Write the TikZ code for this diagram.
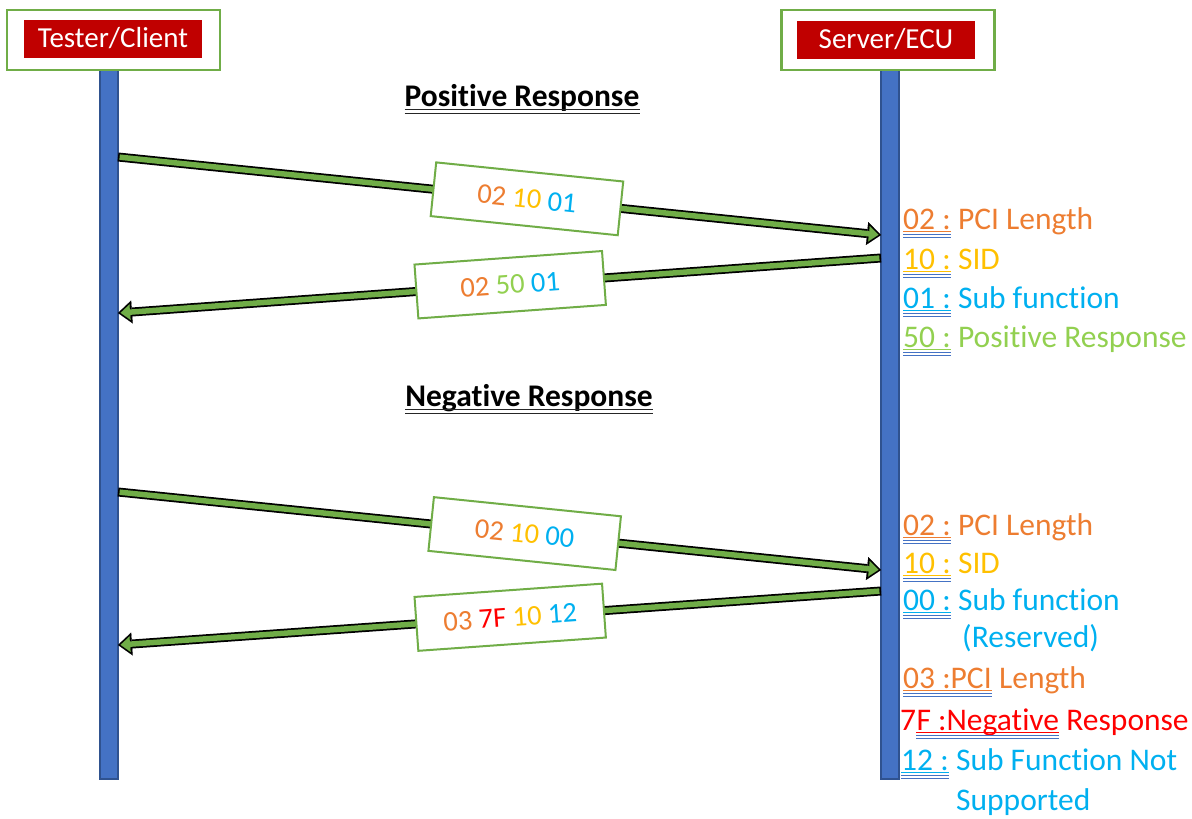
\documentclass[tikz,border=0pt]{standalone}
\usepackage{fontspec}
\setmainfont{Carlito}[Ligatures=NoCommon]
\usetikzlibrary{arrows.meta}

\definecolor{lifeblue}{HTML}{4472C4}
\definecolor{lifeedge}{HTML}{2F528F}
\definecolor{headred}{HTML}{C00000}
\definecolor{boxgreen}{HTML}{70AD47}
\definecolor{pciorange}{HTML}{ED7D31}
\definecolor{sidgold}{HTML}{FFC000}
\definecolor{subblue}{HTML}{00B0F0}
\definecolor{posgreen}{HTML}{92D050}
\definecolor{negred}{HTML}{FF0000}
\definecolor{ulblue}{HTML}{4472C4}

\newcommand{\msgfont}{\fontsize{28.5}{34}\selectfont}
\newcommand{\headfont}{\fontsize{29}{34}\selectfont}
\newcommand{\lblfont}{\fontsize{31.5}{37}\selectfont}
\newcommand{\titlefont}{\fontsize{31.5}{37}\selectfont}

% thick green arrow with black rim, message box on it
\newcommand{\msgarrow}[5]{%
  \draw[arrowout] (#1) -- (#2);
  \draw[arrowin] (#1) -- (#2) node[msgbox,sloped,pos=#3] (#4) {#5};}

% coloured underline plus the blue double line under a key
\newcommand{\keyline}[2]{%
  \draw[#2,line width=1pt] ([yshift=-2.5pt]#1.base west) -- ([yshift=-2.5pt]#1.base east);
  \draw[ulblue,line width=0.9pt] ([yshift=-5.8pt]#1.base west) -- ([yshift=-5.8pt]#1.base east);
  \draw[ulblue,line width=0.9pt] ([yshift=-8.4pt]#1.base west) -- ([yshift=-8.4pt]#1.base east);}

\begin{document}
\begin{tikzpicture}[x=1pt,y=-1pt,
    lifeline/.style={draw=lifeedge,fill=lifeblue,line width=1.5pt,minimum width=18pt,minimum height=709pt,inner sep=0pt},
    headbox/.style={draw=boxgreen,fill=white,line width=2.5pt,minimum width=213pt,minimum height=60pt,inner sep=0pt},
    headlabel/.style={fill=headred,text=white,minimum width=178pt,minimum height=38pt,inner sep=0pt,font=\headfont},
    msgbox/.style={draw=boxgreen,fill=white,line width=2pt,minimum width=188pt,minimum height=54pt,inner sep=0pt,text=black,font=\msgfont},
    title/.style={font=\titlefont\bfseries,anchor=base,inner sep=0pt},
    titleline/.style={black!85,line width=1.3pt},
    lbl/.style={font=\lblfont,anchor=base west,inner sep=0pt},
    arrowout/.style={black,line width=9pt,-{Triangle[length=14pt,width=23pt,line width=0.1pt]}},
    arrowin/.style={boxgreen,line width=5.5pt,shorten <=1.6pt,shorten >=2.6pt,-{Triangle[length=9.5pt,width=15.5pt,line width=0.1pt]}}]

    \useasboundingbox (0,0) rectangle (1192,819);

    \node[lifeline] (client) at (109,424.5) {};
    \node[lifeline] (server) at (890,424.5) {};
    \node[headbox] (clienthead) at (113.5,40) {};
    \node[headlabel] (clientlabel) at (113,38.5) {Tester/Client};
    \node[headbox] (serverhead) at (888,40) {};
    \node[headlabel] (serverlabel) at (886,39.5) {Server/ECU};

    \node[title] (postitle) at (522,106) {Positive Response};
    \draw[titleline] ([yshift=-3.3pt]postitle.base west) -- ([yshift=-3.3pt]postitle.base east);
    \draw[titleline] ([yshift=-7.3pt]postitle.base west) -- ([yshift=-7.3pt]postitle.base east);
    \node[title] (negtitle) at (529,406) {Negative Response};
    \draw[titleline] ([yshift=-3.3pt]negtitle.base west) -- ([yshift=-3.3pt]negtitle.base east);
    \draw[titleline] ([yshift=-7.3pt]negtitle.base west) -- ([yshift=-7.3pt]negtitle.base east);

    \coordinate (c1) at (118,157);
    \coordinate (s1) at (881,235);
    \coordinate (s2) at (881,258);
    \coordinate (c2) at (118,313);
    \coordinate (c3) at (118,492);
    \coordinate (s3) at (881,570);
    \coordinate (s4) at (881,591);
    \coordinate (c4) at (118,645);

    \msgarrow{c1}{s1}{0.536}{req1}{\textcolor{pciorange}{02} \textcolor{sidgold}{10} \textcolor{subblue}{01}}
    \msgarrow{s2}{c2}{0.486}{res1}{\textcolor{pciorange}{02} \textcolor{posgreen}{50} \textcolor{subblue}{01}}
    \msgarrow{c3}{s3}{0.533}{req2}{\textcolor{pciorange}{02} \textcolor{sidgold}{10} \textcolor{subblue}{00}}
    \msgarrow{s4}{c4}{0.486}{res2}{\textcolor{pciorange}{03} \textcolor{negred}{7F} \textcolor{sidgold}{10} \textcolor{subblue}{12}}

    % positive legend
    \node[lbl,text=pciorange] (pk1) at (903,229) {02 :};
    \node[lbl,text=pciorange] (pd1) at ([xshift=7pt]pk1.base east) {PCI Length};
    \keyline{pk1}{pciorange}
    \node[lbl,text=sidgold] (pk2) at (903,269) {10 :};
    \node[lbl,text=sidgold] (pd2) at ([xshift=7pt]pk2.base east) {SID};
    \keyline{pk2}{sidgold}
    \node[lbl,text=subblue] (pk3) at (903,308) {01 :};
    \node[lbl,text=subblue] (pd3) at ([xshift=7pt]pk3.base east) {Sub function};
    \keyline{pk3}{subblue}
    \node[lbl,text=posgreen] (pk4) at (903,347) {50 :};
    \node[lbl,text=posgreen] (pd4) at ([xshift=7pt]pk4.base east) {Positive Response};
    \keyline{pk4}{posgreen}

    % negative legend
    \node[lbl,text=pciorange] (nk1) at (903,535) {02 :};
    \node[lbl,text=pciorange] (nd1) at ([xshift=7pt]nk1.base east) {PCI Length};
    \keyline{nk1}{pciorange}
    \node[lbl,text=sidgold] (nk2) at (903,573) {10 :};
    \node[lbl,text=sidgold] (nd2) at ([xshift=7pt]nk2.base east) {SID};
    \keyline{nk2}{sidgold}
    \node[lbl,text=subblue] (nk3) at (903,610) {00 :};
    \node[lbl,text=subblue] (nd3) at ([xshift=7pt]nk3.base east) {Sub function};
    \keyline{nk3}{subblue}
    \node[lbl,text=subblue] (nd3b) at (962,647) {(Reserved)};
    \node[lbl,text=pciorange] (nk4) at (903,688) {03 :PCI};
    \node[lbl,text=pciorange] (nd4) at ([xshift=7pt]nk4.base east) {Length};
    \keyline{nk4}{pciorange}
    \node[lbl,text=negred] (nk5a) at (900,730) {7};
    \node[lbl,text=negred] (nk5) at (nk5a.base east) {F :Negative};
    \node[lbl,text=negred] (nd5) at ([xshift=7pt]nk5.base east) {Response};
    \keyline{nk5}{negred}
    \node[lbl,text=subblue] (nk6) at (901,770) {12 :};
    \node[lbl,text=subblue] (nd6) at ([xshift=7pt]nk6.base east) {Sub Function Not};
    \keyline{nk6}{subblue}
    \node[lbl,text=subblue] (nd6b) at (956,810) {Supported};
\end{tikzpicture}
\end{document}
